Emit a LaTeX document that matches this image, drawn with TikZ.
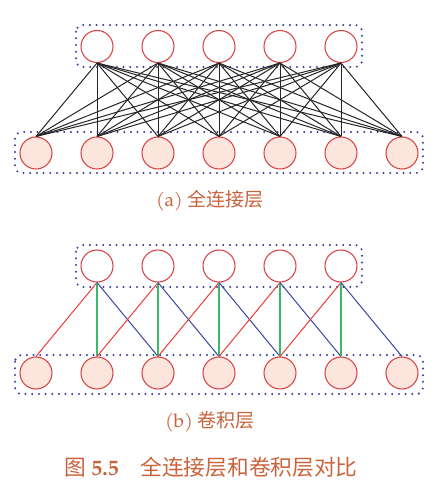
\documentclass[tikz,border=0pt]{standalone}
\usepackage{fontspec}
\newfontfamily\cjk{Noto Sans CJK SC}
\setmainfont{TeX Gyre Pagella}[Scale=1]
\definecolor{nodered}{HTML}{D94545}
\definecolor{nodefill}{HTML}{FCE5DC}
\definecolor{boxblue}{HTML}{3A3F9E}
\definecolor{capcol}{HTML}{C8633C}
\definecolor{lred}{HTML}{EE3B3B}
\definecolor{lgreen}{HTML}{3CB868}
\definecolor{lblue}{HTML}{3A45A0}
\begin{document}
\begin{tikzpicture}[x=0.75pt,y=-0.75pt,
  topn/.style={circle,draw=nodered,line width=0.8pt,minimum size=24pt,inner sep=0pt,fill=white},
  botn/.style={circle,draw=nodered,line width=0.8pt,minimum size=24pt,inner sep=0pt,fill=nodefill},
  dotbox/.style={draw=boxblue,line width=1.7pt,line cap=round,dash pattern=on 0pt off 5pt,rounded corners=5pt},
  conn/.style={line width=0.75pt},
  captext/.style={text=capcol,font=\fontsize{14.3pt}{16pt}\selectfont,inner sep=0pt},
  figtext/.style={text=capcol,font=\fontsize{16.3pt}{18pt}\selectfont,inner sep=0pt}]
\useasboundingbox (0,0) rectangle (441,487);
% ---------- (a) fully connected ----------
\draw[dotbox] (76,25) rectangle (362,67);
\draw[dotbox] (15,132) rectangle (423,173);
\foreach \i in {1,...,5} \node[topn] (at\i) at ({36+61*\i},46.5) {};
\foreach \j in {1,...,7} \node[botn] (ab\j) at ({36+61*(\j-1)},153) {};
\foreach \i in {1,...,5} \foreach \j in {1,...,7}
  \draw[conn,black!85] (at\i.south) -- (ab\j.north);
\node[captext] (capa) at (210,201) {(a) {\cjk 全连接层}};
% ---------- (b) convolution ----------
\draw[dotbox] (76,245) rectangle (362,287);
\draw[dotbox] (15,355) rectangle (423,394);
\foreach \i in {1,...,5} \node[topn] (bt\i) at ({36+61*\i},266) {};
\foreach \j in {1,...,7} \node[botn] (bb\j) at ({36+61*(\j-1)},373) {};
\foreach \i/\k/\m in {1/2/3,2/3/4,3/4/5,4/5/6,5/6/7} {
  \draw[conn,lred] (bt\i.south) -- (bb\i.north);
  \draw[conn,lgreen,line width=1pt] (bt\i.south) -- (bb\k.north);
  \draw[conn,lblue] (bt\i.south) -- (bb\m.north);
}
\node[captext] (capb) at (210,422) {(b) {\cjk 卷积层}};
\node[figtext] (figcap) at (211,467) {{\cjk 图} \textbf{5.5}\quad{\cjk 全连接层和卷积层对比}};
\end{tikzpicture}
\end{document}
